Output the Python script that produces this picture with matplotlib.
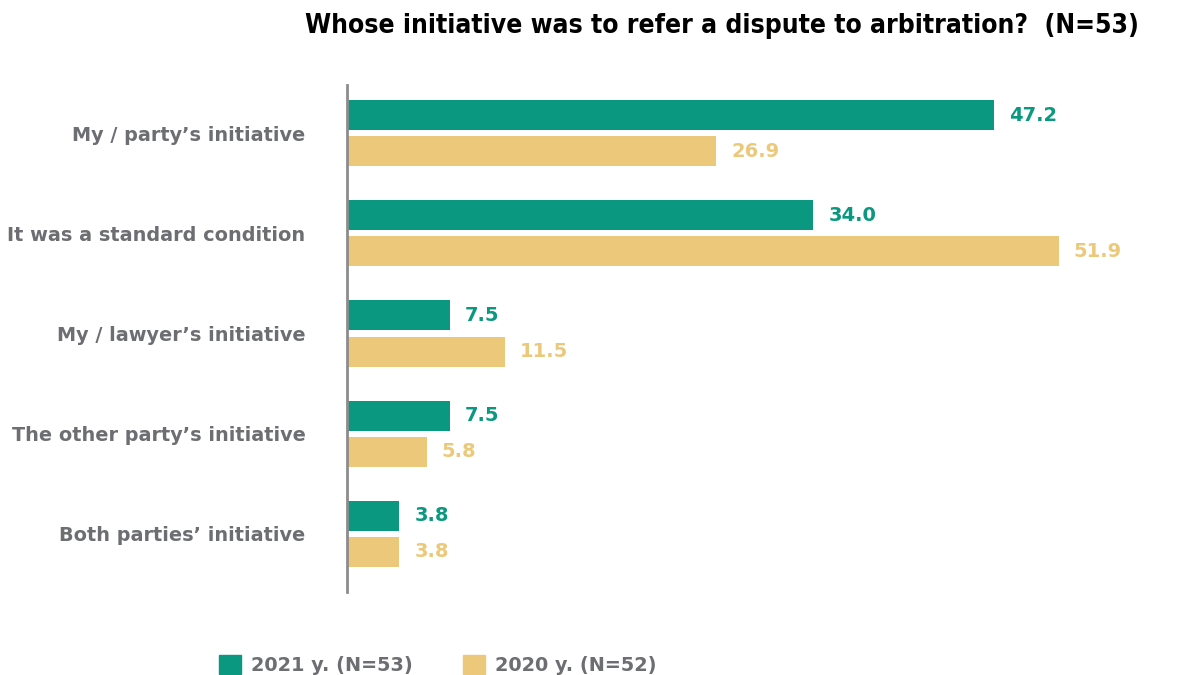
import matplotlib
matplotlib.use("Agg")
import matplotlib.pyplot as plt
import numpy as np
from matplotlib.patches import Patch

# survey answers, top to bottom
categories = [
    "My / party\u2019s initiative",
    "It was a standard condition",
    "My / lawyer\u2019s initiative",
    "The other party\u2019s initiative",
    "Both parties\u2019 initiative",
]
values_2021 = [47.2, 34.0, 7.5, 7.5, 3.8]
values_2020 = [26.9, 51.9, 11.5, 5.8, 3.8]
series_labels = ["2021 y. (N=53)", "2020 y. (N=52)"]

TEAL = "#0b9880"
SAND = "#ecc97a"
GREY = "#6d6e71"

plt.rcParams["font.family"] = "DejaVu Sans"

fig = plt.figure(figsize=(12.03, 6.75), dpi=100)
ax = fig.add_axes([0.2885, 0.123, 0.684, 0.751])

y = np.arange(len(categories))
off = 0.18
h = 0.30
ax.barh(y - off, values_2021, height=h, color=TEAL)
ax.barh(y + off, values_2020, height=h, color=SAND)

for yi, v in zip(y, values_2021):
    ax.text(v + 1.1, yi - off, f"{v:.1f}", va="center", ha="left",
            color=TEAL, fontsize=14, fontweight="bold")
for yi, v in zip(y, values_2020):
    ax.text(v + 1.1, yi + off, f"{v:.1f}", va="center", ha="left",
            color=SAND, fontsize=14, fontweight="bold")

ax.set_xlim(0, 60)
ax.set_ylim(4.58, -0.48)
ax.set_yticks(y)
ax.set_yticklabels(categories, fontsize=13.9, fontweight="bold", color=GREY)
ax.tick_params(axis="y", length=0, pad=30)
ax.set_xticks([])
for side in ["top", "right", "bottom"]:
    ax.spines[side].set_visible(False)
ax.spines["left"].set_color("#8c8c8c")
ax.spines["left"].set_linewidth(2)

fig.text(0.6, 0.962, "Whose initiative was to refer a dispute to arbitration?  (N=53)",
         ha="center", va="center", fontsize=19, fontweight="bold",
         fontstretch="condensed", color="black")

handles = [Patch(color=TEAL), Patch(color=SAND)]
leg = fig.legend(handles, series_labels, loc="center", bbox_to_anchor=(0.364, 0.015),
                 ncol=2, frameon=False, handlelength=1.14, handleheight=1.14,
                 columnspacing=2.6, handletextpad=0.52,
                 prop={"size": 13.9, "weight": "bold"})
for t in leg.get_texts():
    t.set_color(GREY)

fig.savefig("out.png", dpi=100)
